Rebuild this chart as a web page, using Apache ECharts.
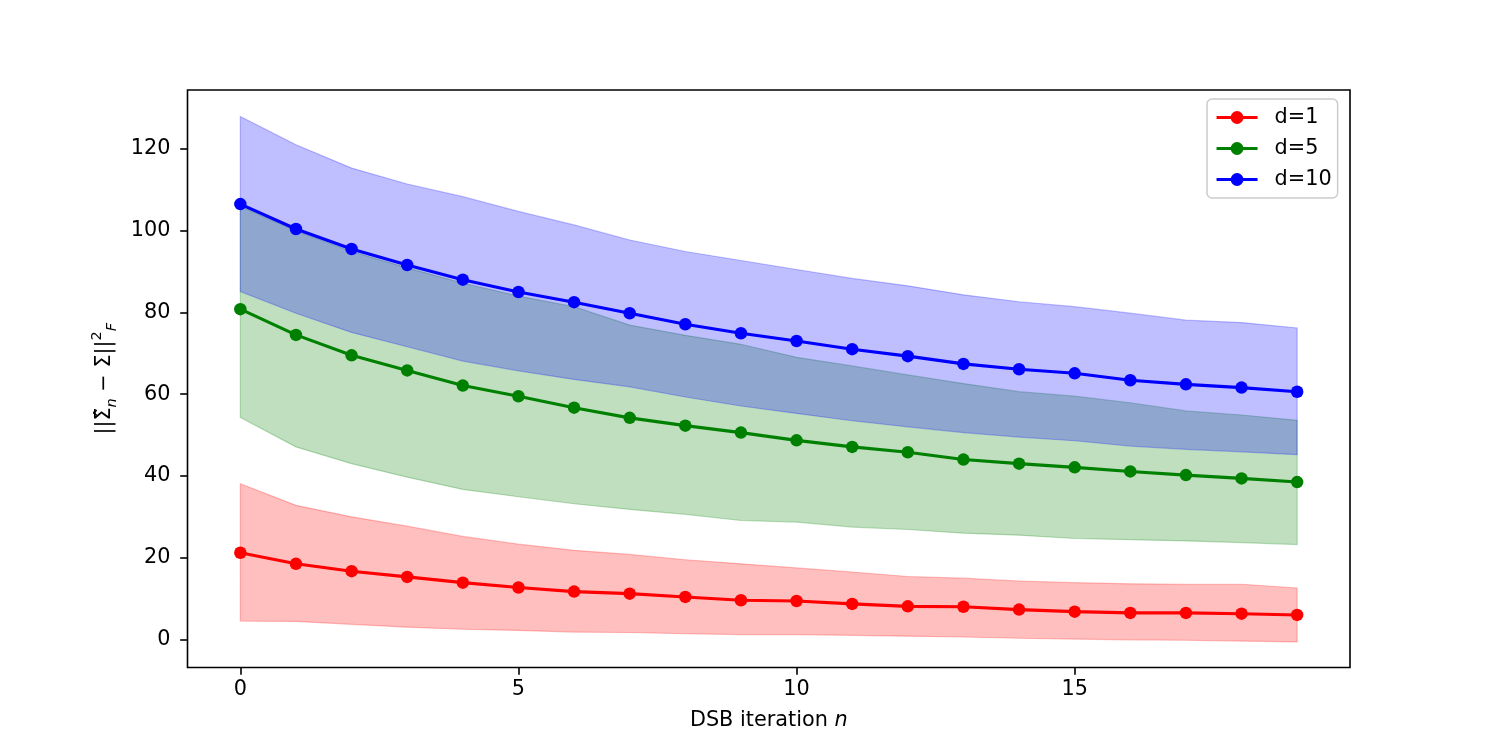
<!DOCTYPE html>
<html>
<head>
<meta charset="utf-8">
<script src="https://cdn.jsdelivr.net/npm/echarts@6/dist/echarts.min.js"></script>
<style>html,body{margin:0;padding:0;background:#fff}#c{width:1500px;height:750px}</style>
</head>
<body>
<div id="c"></div>
<script>
const iterations = [0,1,2,3,4,5,6,7,8,9,10,11,12,13,14,15,16,17,18,19];
const xTicks = [0,5,10,15];
const yTicks = [0,20,40,60,80,100,120];

const d1Mean  = [21.2,18.5,16.7,15.3,13.9,12.7,11.7,11.2,10.4,9.6,9.4,8.7,8.1,8.0,7.3,6.8,6.5,6.5,6.3,6.0];
const d1Upper = [38.1,32.8,30.0,27.7,25.2,23.3,21.8,20.8,19.5,18.5,17.5,16.5,15.4,15.0,14.3,13.9,13.6,13.5,13.5,12.6];
const d1Lower = [4.5,4.4,3.7,3.0,2.5,2.2,1.8,1.7,1.4,1.2,1.2,1.0,0.8,0.6,0.3,0.1,-0.1,-0.2,-0.4,-0.6];

const d5Mean  = [80.8,74.5,69.5,65.8,62.1,59.5,56.7,54.2,52.3,50.6,48.7,47.1,45.8,44.0,43.0,42.1,41.1,40.2,39.4,38.5];
const d5Upper = [106.0,99.9,94.9,90.9,87.2,84.0,81.4,76.9,74.4,72.2,69.0,66.9,64.7,62.6,60.6,59.5,57.9,55.9,54.9,53.6];
const d5Lower = [54.3,47.1,43.0,39.7,36.7,34.9,33.2,31.8,30.6,29.1,28.7,27.5,26.9,26.0,25.5,24.7,24.4,24.1,23.7,23.2];

const d10Mean  = [106.5,100.4,95.5,91.6,88.0,85.0,82.5,79.8,77.1,74.9,73.0,71.0,69.3,67.4,66.1,65.1,63.4,62.4,61.6,60.6];
const d10Upper = [127.9,121.0,115.3,111.4,108.3,104.7,101.4,97.7,94.9,92.7,90.5,88.3,86.5,84.3,82.6,81.4,79.8,78.1,77.5,76.2];
const d10Lower = [85.1,79.8,75.1,71.6,68.1,65.7,63.6,61.8,59.3,57.1,55.3,53.5,52.0,50.6,49.5,48.6,47.3,46.5,45.9,45.2];

const seriesNames = ['d=1','d=5','d=10'];
const FONT = 'DejaVu Sans';

function band(name, lower, upper, rgba) {
  return {
    type: 'custom',
    name: name,
    silent: true,
    data: iterations.map((x, i) => [x, lower[i], upper[i]]),
    encode: { x: 0, y: [1, 2] },
    renderItem: function (params, api) {
      if (params.dataIndex !== 0) return null;
      const pts = [];
      for (let i = 0; i < iterations.length; i++) pts.push(api.coord([iterations[i], upper[i]]));
      for (let i = iterations.length - 1; i >= 0; i--) pts.push(api.coord([iterations[i], lower[i]]));
      return {
        type: 'polygon',
        shape: { points: pts },
        style: { fill: rgba, stroke: rgba, lineWidth: 1.2 }
      };
    }
  };
}
function line(name, vals, color) {
  return {
    type: 'line',
    name: name,
    data: iterations.map((x, i) => [x, vals[i]]),
    symbol: 'circle',
    symbolSize: 12.5,
    showAllSymbol: true,
    lineStyle: { color: color, width: 3.1 },
    itemStyle: { color: color },
    emphasis: { disabled: true }
  };
}

const chart = echarts.init(document.getElementById('c'), null, { renderer: 'canvas' });
chart.setOption({
  animation: false,
  backgroundColor: '#fff',
  textStyle: { fontFamily: FONT },
  grid: { left: 187.5, right: 150, top: 90, bottom: 82.5, show: true, borderColor: '#000', borderWidth: 1.6, backgroundColor: 'transparent' },
  legend: {
    data: seriesNames,
    orient: 'vertical',
    left: 1207, top: 99,
    padding: [8, 6, 8, 8],
    itemWidth: 41, itemHeight: 16, itemGap: 10,
    lineStyle: { width: 3.1 },
    backgroundColor: 'rgba(255,255,255,0.8)',
    borderColor: '#cccccc', borderWidth: 1.5, borderRadius: 5,
    textStyle: { fontFamily: FONT, fontSize: 20.8, color: '#000', lineHeight: 21, padding: [0, 0, 0, 12] }
  },
  xAxis: {
    type: 'value',
    min: -0.95, max: 19.95,
    name: 'DSB iteration {it|n}',
    nameLocation: 'middle',
    nameGap: 43,
    nameTextStyle: { fontFamily: FONT, fontSize: 20.8, color: '#000', rich: { it: { fontFamily: FONT, fontSize: 20.8, fontStyle: 'italic', color: '#000' } } },
    axisLine: { show: false, onZero: false },
    splitLine: { show: false },
    axisTick: { show: true, inside: false, length: 7.3, lineStyle: { color: '#000', width: 1.6 }, customValues: xTicks },
    axisLabel: { fontFamily: FONT, fontSize: 20.8, color: '#000', margin: 12, customValues: xTicks }
  },
  yAxis: {
    type: 'value',
    min: -6.86, max: 134.4,
    name: '||Σ̂{it|n} − Σ||{sup|2}{it|F}',
    nameLocation: 'middle',
    nameRotate: 90,
    nameGap: 66,
    nameTextStyle: {
      fontFamily: FONT, fontSize: 20.8, color: '#000', lineHeight: 30,
      rich: {
        it: { fontFamily: FONT, fontSize: 14.5, fontStyle: 'italic', color: '#000', verticalAlign: 'bottom', lineHeight: 14 },
        sup: { fontFamily: FONT, fontSize: 14.5, color: '#000', verticalAlign: 'top', lineHeight: 14 }
      }
    },
    axisLine: { show: false, onZero: false },
    splitLine: { show: false },
    axisTick: { show: true, inside: false, length: 7.3, lineStyle: { color: '#000', width: 1.6 }, customValues: yTicks },
    axisLabel: { fontFamily: FONT, fontSize: 20.8, color: '#000', margin: 17, customValues: yTicks }
  },
  series: [
    band('band d=1', d1Lower, d1Upper, 'rgba(255,0,0,0.25)'),
    line('d=1', d1Mean, '#ff0000'),
    band('band d=5', d5Lower, d5Upper, 'rgba(0,128,0,0.25)'),
    line('d=5', d5Mean, '#008000'),
    band('band d=10', d10Lower, d10Upper, 'rgba(0,0,255,0.25)'),
    line('d=10', d10Mean, '#0000ff')
  ]
});
</script>
</body>
</html>
